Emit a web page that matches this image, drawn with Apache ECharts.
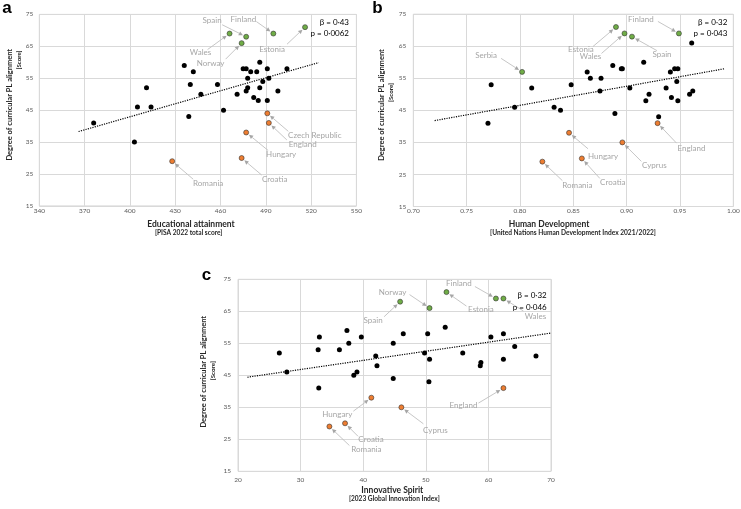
<!DOCTYPE html>
<html><head><meta charset="utf-8">
<script src="https://cdn.jsdelivr.net/npm/echarts@6/dist/echarts.min.js"></script>
<style>html,body{margin:0;padding:0;background:#fff}#c{width:741px;height:509px}</style>
</head><body><div id="c"></div>
<script>
// ---------- Panel a: Educational attainment (PISA 2022) ----------
const aOthers = [[376,41],[403,35],[405,46],[414,46],[411,52],[436,59],[442,57],[440,53],[439,43],[447,50],[458,53],[462,45],[471,50],[475,58],[477,58],[480,57],[484,57],[486,60],[491,58],[504,58],[478,55],[492,55],[488,54],[478,52],[477,51],[486,52],[498,51],[482,49],[485,48],[491,48]];
const aHighNames = ['Wales','Spain','Norway','Finland','Estonia'];
const aHigh = [[466,69],[477,68],[474,66],[495,69],[516,71]];
const aLowNames = ['Czech Republic','England','Hungary','Croatia','Romania'];
const aLow = [[491,44],[492,41],[477,38],[474,30],[428,29]];
const aTrend = [[366,38.3],[525,59.9]];
const aStats = ['β = 0·43','p = 0·0062'];

// ---------- Panel b: Human Development Index ----------
const bOthers = [[0.773,53],[0.770,41],[0.795,46],[0.811,52],[0.832,46],[0.838,45],[0.848,53],[0.863,57],[0.866,55],[0.876,55],[0.875,51],[0.887,59],[0.895,58],[0.896,58],[0.889,44],[0.903,52],[0.916,60],[0.921,50],[0.918,48],[0.930,43],[0.937,52],[0.941,57],[0.942,49],[0.945,58],[0.948,58],[0.947,54],[0.948,48],[0.961,66],[0.959,50],[0.962,51]];
const bHighNames = ['Serbia','Estonia','Wales','Spain','Finland'];
const bHigh = [[0.802,57],[0.890,71],[0.898,69],[0.905,68],[0.949,69]];
const bLowNames = ['England','Cyprus','Croatia','Hungary','Romania'];
const bLow = [[0.929,41],[0.896,35],[0.858,30],[0.846,38],[0.821,29]];
const bTrend = [[0.72,41.8],[0.992,58.0]];
const bStats = ['β = 0·32','p = 0·043'];

// ---------- Panel c: Global Innovation Index ----------
const cOthers = [[26.6,52],[27.8,46],[33,57],[32.8,53],[32.9,41],[36.2,53],[37.4,59],[37.7,55],[39.7,57],[42,51],[42.2,48],[38.5,45],[39,46],[44.8,55],[44.8,44],[46.4,58],[50.3,58],[53.1,60],[49.8,52],[50.6,50],[50.5,43],[55.9,52],[60.4,57],[62.4,58],[64.2,54],[58.8,49],[58.7,48],[62.4,50],[67.6,51]];
const cHighNames = ['Spain','Norway','Estonia','Finland','Wales'];
const cHigh = [[45.9,68],[50.6,66],[53.3,71],[61.2,69],[62.4,69]];
const cLowNames = ['England','Cyprus','Hungary','Croatia','Romania'];
const cLow = [[62.4,41],[46.1,35],[41.3,38],[37.1,30],[34.6,29]];
const cTrend = [[21.5,44.4],[70,58.2]];
const cStats = ['β = 0·32','p = 0·046'];

// axis ticks
const yTicks = {min:15, max:75, interval:10};
const aXTicks = {min:340, max:550, interval:30};
const bXTicks = {min:0.70, max:1.00, interval:0.05};
const cXTicks = {min:20, max:70, interval:10};

// titles
const yTitle = 'Degree of curricular PL alignment';
const yUnit = '[Score]';
const xTitles = [['Educational attainment','[PISA 2022 total score]'],['Human Development','[United Nations Human Development Index 2021/2022]'],['Innovative Spirit','[2023 Global Innovation Index]']];
const panelLetters = ['a','b','c'];

// ---------- layout / style (annotation offsets in px: label dx,dy, arrow start dx,dy) ----------
const annA = {'Spain':[-34,-16,-24,-12],'Finland':[-30,-14,-17,-12],'Wales':[-29,19,-22,16],'Norway':[-31,20,-16,16],'Estonia':[-33,22,-18,17],
 'Czech Republic':[47.5,22,21,18],'England':[34,22,18,17],'Hungary':[35,22,22,18],'Croatia':[33,21,20,17],'Romania':[36,22,21,18]};
const annB = {'Serbia':[-36,-16,-21,-13.5],'Finland':[-38,-14,-21,-12],'Estonia':[-35,22,-23,19.5],'Wales':[-34,23,-23,20],'Spain':[30,18,25,14],
 'England':[34,25,19,20],'Cyprus':[32,23,19,19],'Croatia':[31,24,18,20],'Hungary':[34,24,19,16],'Romania':[35,24,20,19]};
const annC = {'Norway':[-37,-15.5,-20,-13.5],'Spain':[-27,19,-16,15],'Finland':[-37,-15,-21,-12],'Estonia':[34.5,17,20,14],'Wales':[32,17.5,20,12.5],
 'England':[-40,17,-25,15],'Cyprus':[34,23,22,16.5],'Hungary':[-34,16.5,-18,13.5],'Croatia':[26,16.5,13,13],'Romania':[37,23,20,19]};

const FONT = 'Lato, "Liberation Sans", sans-serif';
const GREEN = '#70ad47', ORANGE = '#ed7d31';
const grids = [
  {left:39.3, top:14.4, width:317.1, height:191.5},
  {left:413.3, top:14.2, width:320, height:192.3},
  {left:238, top:279.3, width:313, height:192}
];
const xMargins = [2, 1, 5];
const yMargins = [6, 7, 7];
const xTickSets = [aXTicks, bXTicks, cXTicks];

const chart = echarts.init(document.getElementById('c'));

const option = {
  animation:false,
  backgroundColor:'#fff',
  grid: grids.map(g => Object.assign({show:true, borderColor:'#d9d9d9', borderWidth:1, containLabel:false, outerBoundsMode:'none'}, g)),
  xAxis: xTickSets.map((t,i) => ({
    type:'value', gridIndex:i, min:t.min, max:t.max, interval:t.interval,
    axisLine:{show:false}, axisTick:{show:false},
    axisLabel:{fontSize:6.5, color:'#595959', fontFamily:FONT, margin:xMargins[i],
      formatter: i===1 ? (v => v.toFixed(2)) : (v => String(Math.round(v)))},
    splitLine:{show:true, lineStyle:{color:'#d9d9d9', width:1}}
  })),
  yAxis: [0,1,2].map(i => ({
    type:'value', gridIndex:i, min:yTicks.min, max:yTicks.max, interval:yTicks.interval,
    axisLine:{show:false}, axisTick:{show:false},
    axisLabel:{fontSize:6.5, color:'#595959', fontFamily:FONT, margin:yMargins[i]},
    splitLine:{show:true, lineStyle:{color:'#d9d9d9', width:1}}
  })),
  series: []
};

const panels = [
  {others:aOthers, high:aHigh, low:aLow, trend:aTrend},
  {others:bOthers, high:bHigh, low:bLow, trend:bTrend},
  {others:cOthers, high:cHigh, low:cLow, trend:cTrend}
];
panels.forEach((p,i) => {
  option.series.push({type:'line', xAxisIndex:i, yAxisIndex:i, data:p.trend, symbol:'none', silent:true,
    lineStyle:{color:'#000', width:1.2, type:[1.2,1.2]}, z:1});
  option.series.push({type:'scatter', xAxisIndex:i, yAxisIndex:i, data:p.others, symbolSize:5,
    itemStyle:{color:'#000', opacity:1}, z:3});
  option.series.push({type:'scatter', xAxisIndex:i, yAxisIndex:i, data:p.high, symbolSize:5,
    itemStyle:{color:GREEN, borderColor:'#333', borderWidth:0.6, opacity:1}, z:3});
  option.series.push({type:'scatter', xAxisIndex:i, yAxisIndex:i, data:p.low, symbolSize:5,
    itemStyle:{color:ORANGE, borderColor:'#333', borderWidth:0.6, opacity:1}, z:3});
});
chart.setOption(option);

// ---------- graphics: annotations, titles ----------
const gfx = [];
function txt(x,y,text,opt){
  gfx.push(Object.assign({type:'text', x:x, y:y, silent:true, z:10,
    style:Object.assign({text:text, fill:'#a6a6a6', font:'8px '+FONT, textAlign:'center', textVerticalAlign:'middle'}, opt && opt.style)},
    opt && opt.el));
}
function annotate(i, names, pts, ann){
  names.forEach((n,k) => {
    const o = ann[n]; if(!o) return;
    const p = chart.convertToPixel({gridIndex:i}, pts[k]);
    const s = [p[0]+o[2], p[1]+o[3]];
    let dx = p[0]-s[0], dy = p[1]-s[1];
    const L = Math.hypot(dx,dy); dx/=L; dy/=L;
    const e = [p[0]-dx*3.6, p[1]-dy*3.6];
    const b = [e[0]-dx*4.2, e[1]-dy*4.2];
    const px = -dy, py = dx;
    gfx.push({type:'line', silent:true, z:9, shape:{x1:s[0], y1:s[1], x2:b[0], y2:b[1]}, style:{stroke:'#bfbfbf', lineWidth:0.9}});
    gfx.push({type:'polygon', silent:true, z:9, shape:{points:[e,[b[0]+px*2.1,b[1]+py*2.1],[b[0]-px*2.1,b[1]-py*2.1]]}, style:{fill:'#a6a6a6'}});
    txt(p[0]+o[0], p[1]+o[1], n);
  });
}
annotate(0, aHighNames, aHigh, annA); annotate(0, aLowNames, aLow, annA);
annotate(1, bHighNames, bHigh, annB); annotate(1, bLowNames, bLow, annB);
annotate(2, cHighNames, cHigh, annC); annotate(2, cLowNames, cLow, annC);

// stats boxes
const statsPos = [[349,22.3,33],[727.3,22.3,33],[546.7,295.7,307]];
[aStats,bStats,cStats].forEach((s,i) => {
  txt(statsPos[i][0], statsPos[i][1], s[0], {style:{fill:'#000', textAlign:'right', font:'8px '+FONT}});
  txt(statsPos[i][0], statsPos[i][2], s[1], {style:{fill:'#000', textAlign:'right', font:'8px '+FONT}});
});

// axis titles
const xTitlePos = [[191,224,188.7,233.3],[549,224,573,233.3],[392.3,490,394.3,499.3]];
xTitles.forEach((t,i) => {
  const q = xTitlePos[i];
  txt(q[0], q[1], t[0], {style:{fill:'#262626', font:'bold 8.5px '+FONT}});
  txt(q[2], q[3], t[1], {style:{fill:'#262626', font:'bold 6.6px '+FONT}});
});
const yTitlePos = [[10,104.7,19.5,60],[381.7,105,390.7,92.5],[204,371.7,213.3,370.7]];
yTitlePos.forEach(q => {
  txt(q[0], q[1], yTitle, {style:{fill:'#262626', font:'bold 7.5px '+FONT}, el:{rotation:Math.PI/2}});
  txt(q[2], q[3], yUnit, {style:{fill:'#262626', font:'bold 6.2px '+FONT}, el:{rotation:Math.PI/2}});
});
// panel letters
const letterPos = [[7,8],[377.5,8.5],[206.5,275]];
panelLetters.forEach((l,i) => {
  txt(letterPos[i][0], letterPos[i][1], l, {style:{fill:'#000', font:'bold 17px "Liberation Sans", Arial, sans-serif'}});
});

chart.setOption({graphic:{elements:gfx}});
</script>
</body></html>
